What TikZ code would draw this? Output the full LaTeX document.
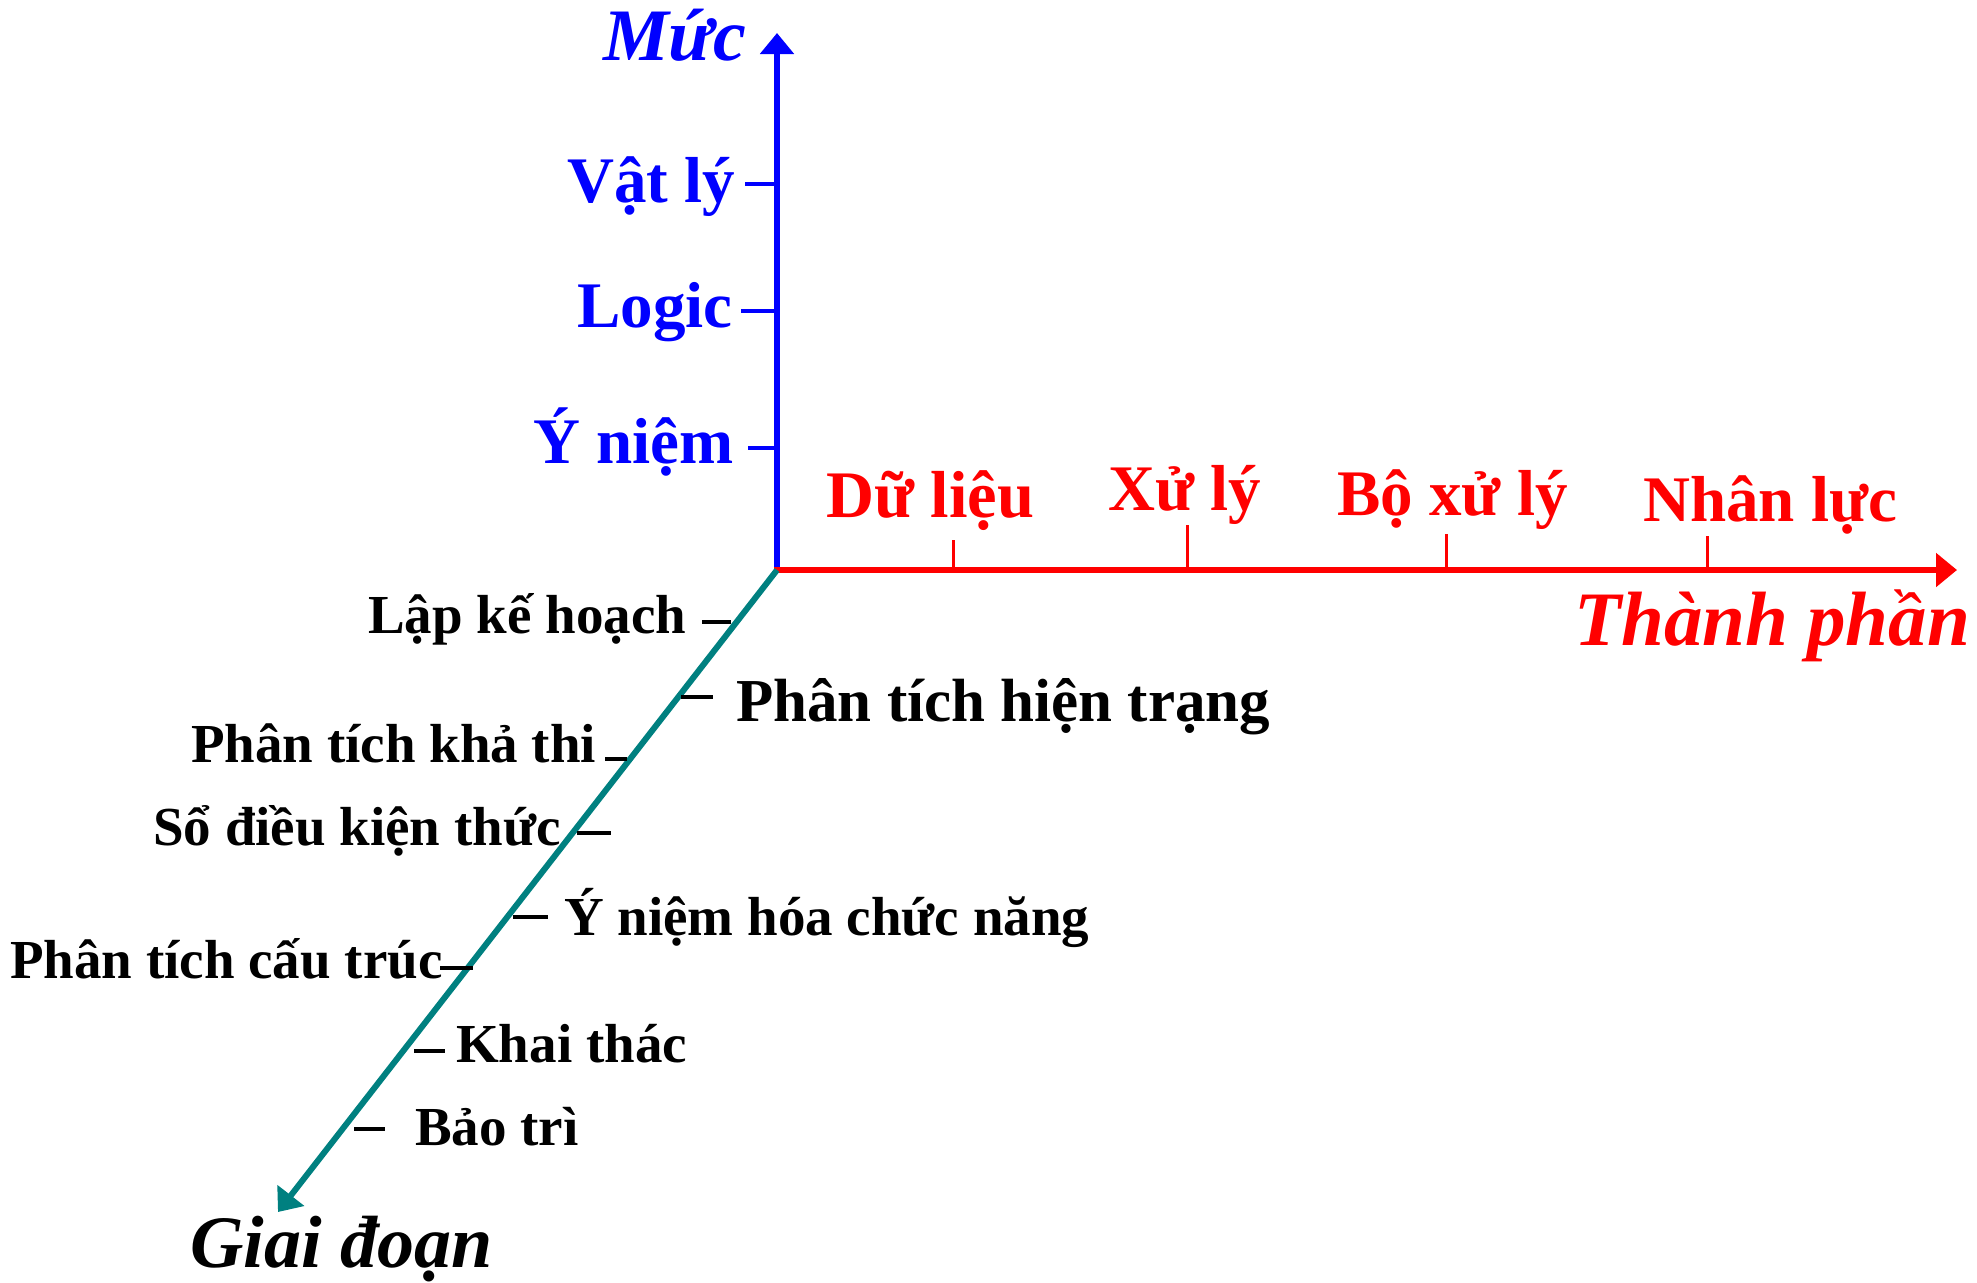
\documentclass[tikz,border=0pt]{standalone}
\usepackage{fontspec}
\setmainfont{Liberation Serif}
\usetikzlibrary{arrows.meta}
\begin{document}
\begin{tikzpicture}[x=1pt,y=-1pt,
  lblk/.style={inner sep=0pt, anchor=base west, text=black, font=\bfseries\fontsize{55}{60}\selectfont},
  lblkbig/.style={lblk, font=\bfseries\fontsize{61}{66}\selectfont},
  lblue/.style={inner sep=0pt, anchor=base west, text=blue, font=\bfseries\fontsize{65}{70}\selectfont},
  lred/.style={inner sep=0pt, anchor=base west, text=red, font=\bfseries\fontsize{65}{70}\selectfont},
  axname/.style={inner sep=0pt, anchor=base west, font=\bfseries\itshape\fontsize{74}{80}\selectfont},
  tipx/.style={-{Triangle[length=21pt,width=33pt]}},
  btick/.style={draw=black, line width=3.5pt},
  bluetick/.style={draw=blue, line width=4pt},
  redtick/.style={draw=red, line width=3pt}]
\useasboundingbox (0,0) rectangle (1977,1282);

% axes
\coordinate (O) at (777,570);
\coordinate (ytop) at (777,33);
\coordinate (xend) at (1957,570);
\coordinate (zend) at (278,1212);
\draw[blue, line width=6pt, tipx] ([yshift=-3pt]O) -- (ytop);
\draw[red, line width=6pt, tipx] ([xshift=-3pt]O) -- (xend);
\draw[teal, line width=6pt, tipx] (O) -- (zend);

% axis names
\node[axname, text=blue] (muc) at (603,60) {Mức};
\node[axname, text=red, font=\bfseries\itshape\fontsize{77}{82}\selectfont] (tp) at (1574,645) {Thành phần};
\node[axname, text=black] (gd) at (190,1267) {Giai đoạn};

% vertical axis levels
\draw[bluetick] (745,184) -- (777,184);
\draw[bluetick] (741,311) -- (777,311);
\draw[bluetick] (748,448) -- (777,448);
\node[lblue] (vatly) at (567,202) {Vật lý};
\node[lblue] (logic) at (577,327) {Logic};
\node[lblue] (yniem) at (533,463) {Ý niệm};

% horizontal axis components
\draw[redtick] (953,540) -- (953,570);
\draw[redtick] (1187,525) -- (1187,570);
\draw[redtick] (1446,534) -- (1446,570);
\draw[redtick] (1707,536) -- (1707,570);
\node[lred, font=\bfseries\fontsize{66.5}{70}\selectfont] (dulieu) at (826,517) {Dữ liệu};
\node[lred] (xuly) at (1108,510) {Xử lý};
\node[lred] (boxuly) at (1337,515) {Bộ xử lý};
\node[lred] (nhanluc) at (1643,521) {Nhân lực};

% diagonal axis stages
\draw[btick] (702,622) -- (731,622);
\draw[btick] (681,697) -- (713,697);
\draw[btick] (605,759) -- (627,759);
\draw[btick] (577,833) -- (611,833);
\draw[btick] (513,917) -- (548,917);
\draw[btick] (440,968) -- (473,968);
\draw[btick] (414,1051) -- (445,1051);
\draw[btick] (354,1129) -- (385,1129);
\node[lblk] (lap) at (368,633) {Lập kế hoạch};
\node[lblkbig] (ptht) at (736,721) {Phân tích hiện trạng};
\node[lblk] (ptkt) at (191,762) {Phân tích khả thi};
\node[lblk] (sodk) at (153,845) {Sổ điều kiện thức};
\node[lblk] (ynh) at (564,935) {Ý niệm hóa chức năng};
\node[lblk] (ptct) at (10,978) {Phân tích cấu trúc};
\node[lblk] (khai) at (456,1062) {Khai thác};
\node[lblk] (bao) at (415,1145) {Bảo trì};
\end{tikzpicture}
\end{document}
